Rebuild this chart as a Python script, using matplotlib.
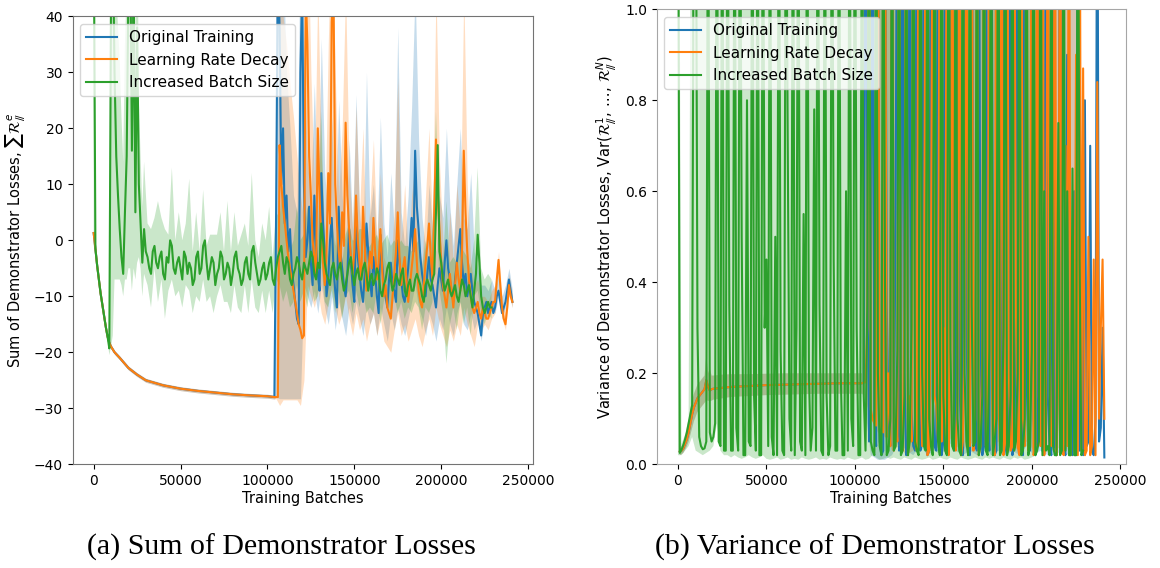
import numpy as np
import matplotlib
matplotlib.use("Agg")
import matplotlib.pyplot as plt

plt.rcParams['font.family'] = ['DejaVu Sans']
plt.rcParams['mathtext.fontset'] = 'dejavusans'

BLUE, ORANGE, GREEN = "#1f77b4", "#ff7f0e", "#2ca02c"
LABELS = ["Original Training", "Learning Rate Decay", "Increased Batch Size"]

# ---------------- (a) Sum of demonstrator losses ----------------
# shared smooth segment (Original Training == Learning Rate Decay before 105k)
sum_smooth_batches = [0, 1000, 2000, 3000, 4000, 5000, 6000, 7000, 8000, 9000, 10000, 12000,
                      15000, 20000, 25000, 30000, 40000, 50000, 60000, 70000, 80000, 90000,
                      100000, 104000]
sum_smooth = [1.3, -1.5, -4.5, -7, -9.5, -11.5, -13.5, -15.5, -17.2, -18.3, -19, -20,
              -21, -22.8, -24, -25, -25.9, -26.5, -26.9, -27.2, -27.5, -27.7, -27.85, -28]
sum_smooth_spread = 0.35

# noisy segment lines: every 1000 batches from 105000 to 241000
sum_noisy_batches = list(range(105000, 241001, 1000))
sum_blue = [5, 50, 38, 10, 20, 3, 8, -2, 2, -5,
            -8, -11, -14, -15, 30, 45, 10, -3, 0, 6,
            -4, -8, 8, -1, -6, -9, 12, 3, -2, -10,
            -7, 0, 4, -5, -9, -12, 6, -2, -5, -8,
            -10, -6, 2, -4, -8, -11, 5, -3, -6, -9,
            -11, -6, 3, -2, -7, -10, -3, -6, -10, -13,
            1, -4, -8, -10, -12, -7, -4, -8, -9, -11,
            0, -4, -7, -10, -11, -8, -5, -1, 4, -2,
            16, 6, 2, -3, -6, -8, -10, -6, -3, -7,
            -8, -10, -12, -8, -5, -7, -9, -4, 0, -5,
            -7, -9, -11, -7, -4, -1, 2, -4, -8, -6,
            -10, -8, -6, -9, -11, -12, -13, -15, -17, -13,
            -12, -11, -13, -12, -11, -13, -12, -10, -9, -11,
            -13, -12, -11, -9, -7, -9, -11]
sum_orange = [-28, -28, 17, 10, 6, 3, 0, -3, -5, -7,
              -9, -11, -13, -15, -16, -17.5, -17, 45, 35, 15,
              8, 0, -3, -6, 20, 8, 0, -4, -8, -2,
              12, 3, 39, 45, 10, 3, -2, -5, 5, -1,
              21, 8, 2, -3, -6, -2, 8, 0, -4, -7,
              6, -1, -9, -6, -2, -5, 4, -2, -7, -4,
              2, -5, -10, -8, -12, -13, -14, -10, -6, -2,
              5, -3, -8, -5, -3, -7, -11, -8, -5, -2,
              2, -4, -9, -11, -12, -8, -4, -1, 3, -3,
              -7, 5, 18, 8, 2, -4, -8, -10, -12, -9,
              -6, -9, -12, -8, -4, -7, -9, -2, 16, 5,
              -2, -7, -10, -12, -13, -12, -11, -13, -14, -12,
              -13, -14, -14, -13, -12, -11, -11, -7, -3.5, -8,
              -12, -14, -15, -12, -8, -10, -11]

# noisy segment bands: every 2000 batches from 105000 to 241000
sum_band_batches = list(range(105000, 241001, 2000))
sum_blue_hi = [45, 60, 50, 30, 20, 8, 5, 60, 35, 14,
               8, 28, 6, 36, 12, 3, 22, 2, 25, 8,
               0, 18, 2, 26, 5, -2, 30, 4, 10, -1,
               22, 3, -3, 12, 2, 38, 5, -1, 8, 24,
               45, 18, 4, -2, 10, 2, -2, 8, 4, 20,
               6, -1, 10, 20, 4, 2, 12, -2, -5, -8,
               -8, -9, -7, -9, -6, -10, -8, -5, -9]
sum_blue_lo = [-28, -28.3, -28.3, -28.3, -28.3, -28.3, -28.3, -28.3, -8, -10,
               -12, -9, -13, -8, -12, -15, -10, -16, -11, -14,
               -17, -12, -15, -11, -14, -17, -12, -15, -13, -17,
               -12, -15, -18, -13, -16, -12, -15, -17, -14, -11,
               -8, -12, -14, -17, -13, -15, -18, -14, -16, -12,
               -15, -17, -13, -11, -15, -16, -13, -16, -14, -18,
               -13, -14, -12, -13, -10, -14, -12, -8, -12]
sum_orange_hi = [-27.7, 50, 40, 35, 28, 22, 15, 8, 3, 60,
                 30, 10, 45, 15, 2, 35, 60, 30, 8, 20,
                 45, 12, 2, 24, 5, 20, -2, 6, 18, 0,
                 12, -3, -5, -6, 6, 29, 0, 10, -3, 8,
                 14, 0, -4, 8, 20, 2, 45, 14, 0, -5,
                 5, -4, 10, 2, 45, 10, -4, -8, -7, -10,
                 -10, -11, -9, -8, -2, -10, -13, -6, -10]
sum_orange_lo = [-28.3, -29.5, -28.5, -28.5, -28.5, -28.5, -28.5, -29.5, -25, -8,
                 -10, -12, -9, -13, -15, -11, -8, -12, -15, -13,
                 -10, -14, -17, -13, -16, -14, -18, -15, -13, -17,
                 -14, -18, -19, -20, -16, -13, -17, -15, -18, -16,
                 -14, -17, -19, -16, -14, -17, -12, -15, -17, -19,
                 -16, -18, -15, -17, -12, -15, -17, -19, -15, -16,
                 -15, -16, -14, -13, -5, -14, -16, -10, -12]

# Increased batch size line: every 1000 batches from 0 to 229000
green_sum_batches = list(range(0, 229001, 1000))
green_sum = [60, -1.5, -4.5, -7, -9.5, -11.5, -13.5, -15.5, -17.2, -19.3,
             45, 55, 30, 15, 8, 2, -3, -6, 5, 15,
             45, 55, 16, 45, 5, 38, 10, 3, -4, 2,
             -2, -3, -5, -6, -2, -1, -4, -5, -3, -2,
             -6, -7, -3, -4, 0, -1, -5, -6, -4, -3,
             -5, -7, -2, -3, -6, -4, -5, -8, -7, -3,
             -2, -6, -5, -1, 0, -4, -7, -5, -3, -4,
             -8, -6, -5, -2, -3, -7, -6, -4, -5, -8,
             -6, -3, -2, -5, -6, -8, -7, -4, -3, -6,
             -7, -2, -1, -4, -6, -8, -7, -5, -4, -7,
             -6, -4, -3, -7, -8, -5, -3, -2, -1, -4,
             -6, -3, -4, -7, -8, -6, -5, -3, -4, -6,
             -7, -4, -5, -6, -4, -2, -3, -6, -7, -4,
             -5, 3, 0, -4, -6, -7, -8, -5, -4, -6,
             -7, -5, -4, -7, -9, -8, -6, -4, -3, -6,
             -8, -6, -5, -7, -7, -5, -4, -6, -9, -7,
             -6, -8, -7, -5, -6, -9, -10, -8, -7, -5,
             -4, -7, -9, -8, -6, -7, -8, -6, -5, -9,
             -10, -8, -7, -9, -9, -7, -6, -7, -8, -10,
             -11, -8, -7, -8, -9, -7, -6, 5, 17, -2,
             -4, -7, -9, -8, -7, -9, -10, -9, -8, -10,
             -11, -9, -7, -8, -10, -9, -8, -10, -12, -9,
             -6, 1, -4, -10, -12, -13, -12, -11, -12, -12]

# Increased batch size band: centre and offsets read from the shaded area
green_band_batches = list(range(0, 30000, 1000)) + list(range(31000, 229001, 2000))
green_band_mid = [60, -1.5, -4.5, -7, -9.5, -11.5, -13.5, -15.5, -17.2, -19.3,
                  45, 55, 30, 15, 8, 2, -3, -6, 5, 15,
                  45, 55, 16, 45, 5, 38, 10, 3, -4, 2,
                  -3, -6, -1, -5, -2, -7, -4, -1, -6, -3,
                  -7, -2, -5, -8, -3, -6, -1, -7, -4, -8,
                  -5, -2, -7, -5, -8, -3, -6, -8, -4, -7,
                  -2, -6, -8, -5, -7, -4, -8, -3, -2, -6,
                  -4, -8, -5, -3, -7, -4, -6, -2, -7, -5,
                  3, -6, -8, -4, -7, -5, -9, -6, -3, -8,
                  -5, -7, -4, -9, -6, -8, -5, -10, -7, -4,
                  -9, -6, -8, -5, -10, -7, -9, -6, -8, -11,
                  -7, -9, -6, 17, -4, -9, -7, -10, -8, -11,
                  -7, -10, -8, -12, -6, 1, -10, -13, -11, -12]
green_band_up = [20, 0.5, 0.5, 0.5, 0.5, 0.5, 0.5, 0.5, 0.5, 1,
                 30, 30, 30, 30, 30, 30, 25, 20, 30, 30,
                 30, 30, 30, 30, 30, 30, 15, 12, 10, 12,
                 6, 8, 5, 12, 6, 9, 5, 14, 6, 8,
                 7, 5, 16, 6, 8, 4, 10, 6, 5, 9,
                 6, 7, 5, 12, 6, 8, 5, 9, 7, 6,
                 14, 6, 5, 8, 7, 10, 5, 8, 6, 16,
                 8, 6, 5, 9, 7, 5, 12, 6, 8, 5,
                 20, 6, 5, 8, 6, 9, 5, 7, 6, 8,
                 5, 9, 6, 7, 5, 8, 6, 9, 7, 5,
                 8, 6, 7, 5, 9, 6, 7, 5, 8, 6,
                 7, 5, 8, 6, 7, 5, 14, 6, 5, 7,
                 6, 8, 5, 7, 6, 12, 5, 6, 5, 5]
green_band_dn = [61, 0.5, 0.5, 0.5, 0.5, 0.5, 0.5, 0.5, 0.5, 1.2,
                 64, 72, 37, 22, 15, 9, 5, 4, 12, 22,
                 50, 60, 25, 50, 12, 42, 13, 8, 6, 8,
                 5, 6, 4, 6, 5, 7, 5, 6, 4, 6,
                 5, 6, 4, 5, 7, 5, 6, 4, 6, 5,
                 5, 6, 4, 6, 5, 5, 6, 5, 4, 6,
                 5, 6, 5, 4, 6, 5, 5, 4, 6, 5,
                 5, 4, 6, 5, 4, 5, 6, 5, 4, 5,
                 7, 5, 4, 5, 6, 4, 5, 4, 6, 5,
                 4, 5, 5, 4, 6, 5, 4, 5, 4, 5,
                 5, 4, 5, 6, 4, 5, 4, 5, 4, 5,
                 5, 4, 5, 4, 5, 4, 15, 5, 4, 5,
                 4, 5, 4, 5, 4, 10, 3, 2, 2, 2]

# ---------------- (b) Variance of demonstrator losses ----------------
VAR_CEIL = 2.0  # band continues above the top of the axes
var_smooth_batches = [1000, 2000, 3000, 4000, 5000, 6000, 7000, 8000, 9000, 10000,
                      11000, 12000, 13000, 14000, 15000, 16000, 17000, 18000, 19000, 20000,
                      25000, 30000, 40000, 50000, 60000, 70000, 80000, 90000, 100000, 104000]
var_smooth = [0.028, 0.03, 0.035, 0.045, 0.055, 0.07, 0.09, 0.11, 0.125, 0.135,
              0.145, 0.15, 0.155, 0.16, 0.165, 0.185, 0.17, 0.162, 0.165, 0.166,
              0.168, 0.17, 0.172, 0.174, 0.175, 0.176, 0.177, 0.178, 0.178, 0.178]
var_smooth_lo = [0.02, 0.022, 0.025, 0.032, 0.04, 0.05, 0.065, 0.08, 0.095, 0.105,
                 0.115, 0.12, 0.125, 0.13, 0.135, 0.14, 0.14, 0.138, 0.14, 0.142,
                 0.145, 0.148, 0.15, 0.152, 0.153, 0.154, 0.155, 0.155, 0.155, 0.155]
var_smooth_hi = [0.036, 0.04, 0.047, 0.06, 0.075, 0.095, 0.12, 0.14, 0.155, 0.165,
                 0.175, 0.18, 0.185, 0.19, 0.195, 0.24, 0.2, 0.21, 0.195, 0.195,
                 0.197, 0.198, 0.198, 0.199, 0.2, 0.2, 0.2, 0.2, 0.2, 0.2]

var_noisy_batches = list(range(105000, 241001, 1000))
var_blue = [0.18, 1.5, 0.6, 0.05, 0.3, 1.5, 0.1, 0.04, 1.5, 0.05,
            0.02, 0.03, 1.5, 0.35, 0.1, 0.04, 1.5, 0.04, 0.55, 1.5,
            0.03, 0.05, 1.5, 0.2, 0.02, 0.04, 1.5, 0.12, 0.04, 0.03,
            1.5, 0.25, 0.03, 0.05, 1.5, 0.45, 0.02, 0.03, 1.5, 0.15,
            0.04, 0.03, 1.5, 0.3, 0.02, 0.05, 1.5, 0.1, 0.04, 0.5,
            1.5, 0.03, 0.04, 1.5, 0.2, 0.06, 0.02, 1.5, 0.35, 0.03,
            0.02, 1.5, 0.15, 0.04, 0.03, 1.5, 0.25, 0.02, 0.04, 1.5,
            0.1, 0.03, 1.5, 0.4, 0.02, 0.03, 1.5, 0.2, 0.05, 1.5,
            0.04, 0.02, 0.12, 1.5, 0.02, 0.04, 0.3, 1.5, 0.05, 0.03,
            0.02, 1.5, 0.2, 0.04, 0.03, 1.5, 0.1, 0.02, 0.04, 1.5,
            0.35, 0.03, 0.02, 1.5, 0.15, 0.04, 0.02, 1.5, 0.04, 0.02,
            0.25, 1.5, 0.03, 0.04, 0.02, 0.9, 0.05, 0.03, 0.02, 0.6,
            0.02, 1.5, 0.03, 0.4, 0.02, 0.8, 0.04, 0.05, 0.7, 0.03,
            0.02, 0.1, 1.5, 0.05, 0.08, 0.3, 0.015]
var_orange = [0.18, 0.18, 0.3, 1.5, 0.12, 0.1, 0.09, 0.085, 1.5, 0.09,
              0.08, 0.07, 1.5, 0.06, 0.2, 0.04, 1.5, 0.03, 0.1, 0.05,
              1.5, 0.04, 0.03, 0.35, 1.5, 0.02, 0.15, 0.05, 1.5, 0.05,
              0.03, 1.5, 0.25, 0.04, 0.1, 1.5, 0.02, 0.03, 0.4, 1.5,
              0.15, 0.13, 0.05, 1.5, 0.05, 0.3, 0.03, 1.5, 0.02, 0.2,
              1.5, 0.04, 0.03, 0.15, 1.5, 0.02, 0.05, 0.3, 1.5, 0.06,
              0.04, 1.5, 0.03, 0.1, 1.5, 0.02, 0.04, 0.25, 1.5, 0.04,
              0.05, 1.5, 0.3, 0.04, 0.02, 1.5, 0.15, 0.04, 1.5, 0.02,
              0.05, 1.5, 0.2, 0.03, 0.04, 1.5, 0.35, 0.04, 0.02, 1.5,
              0.1, 0.04, 1.5, 0.03, 0.25, 1.5, 0.02, 0.04, 1.5, 0.15,
              0.04, 1.5, 0.02, 0.05, 1.5, 0.3, 0.04, 0.05, 1.5, 0.02,
              0.2, 1.5, 0.03, 0.02, 0.7, 0.04, 1.5, 0.02, 0.5, 0.03,
              0.9, 0.02, 1.5, 0.03, 0.87, 0.02, 0.03, 0.5, 0.02, 0.04,
              0.45, 0.02, 0.84, 0.1, 0.3, 0.45, 0.1]
var_band_batches = list(range(105000, 225001, 4000))
var_blue_band_lo = [0.15, 0.02, 0.01, 0.01, 0.02, 0.05, 0.03, 0.02, 0.04, 0.02,
                    0.03, 0.02, 0.05, 0.03, 0.02, 0.03, 0.02, 0.04, 0.02, 0.03,
                    0.02, 0.03, 0.02, 0.04, 0.02, 0.03, 0.02, 0.02, 0.03, 0.02, 0.02]
var_orange_band_lo = [0.155, 0.1, 0.07, 0.06, 0.03, 0.04, 0.02, 0.03, 0.05, 0.03,
                      0.04, 0.03, 0.06, 0.04, 0.03, 0.05, 0.03, 0.04, 0.03, 0.05,
                      0.03, 0.04, 0.03, 0.05, 0.03, 0.04, 0.03, 0.03, 0.04, 0.03, 0.03]

var_green_batches = list(range(0, 229001, 1000))
var_green = [1.5, 0.025, 0.032, 0.042, 0.055, 0.07, 0.09, 0.11, 0.13, 1.5,
             1.5, 0.3, 0.06, 0.04, 0.033, 0.035, 0.05, 1.5, 0.07, 0.05,
             0.06, 0.09, 1.5, 0.05, 0.04, 1.5, 0.03, 0.03, 1.5, 0.35,
             0.03, 0.03, 1.5, 0.08, 0.03, 1.5, 0.5, 0.02, 0.02, 0.8,
             0.05, 0.04, 1.5, 0.15, 0.03, 1.5, 0.02, 0.02, 1.5, 0.3,
             0.45, 0.04, 1.5, 0.06, 0.02, 0.5, 0.02, 1.5, 0.25, 0.03,
             0.02, 1.5, 0.72, 0.1, 0.03, 1.5, 0.02, 0.3, 1.5, 0.05,
             0.03, 0.55, 0.02, 1.5, 0.2, 0.03, 0.08, 0.78, 0.03, 1.5,
             0.35, 0.03, 0.02, 1.5, 0.15, 0.02, 0.04, 1.5, 0.45, 0.03,
             0.03, 1.5, 0.2, 0.02, 0.02, 0.6, 0.03, 1.5, 0.1, 0.04,
             1.5, 0.3, 0.02, 0.02, 1.5, 0.15, 0.03, 0.35, 1.5, 0.05,
             0.03, 0.02, 1.5, 0.2, 0.04, 0.02, 1.5, 0.4, 0.02, 0.03,
             0.1, 1.5, 0.03, 0.04, 0.25, 1.5, 0.02, 0.03, 0.15, 1.5,
             0.02, 0.05, 0.3, 1.5, 0.05, 0.03, 0.02, 1.5, 0.2, 0.04,
             0.03, 1.5, 0.1, 0.04, 0.02, 1.5, 0.3, 0.05, 0.02, 1.5,
             0.15, 0.03, 0.02, 1.5, 0.25, 0.04, 0.03, 1.5, 0.1, 0.03,
             0.02, 1.5, 0.2, 0.05, 0.02, 1.5, 0.35, 0.04, 0.05, 1.5,
             0.02, 0.04, 0.15, 1.5, 0.03, 0.02, 0.25, 1.5, 0.02, 0.05,
             0.1, 1.5, 0.02, 0.03, 0.3, 1.5, 0.02, 0.04, 0.15, 1.5,
             0.03, 0.05, 0.2, 1.5, 0.02, 0.03, 0.1, 1.5, 0.02, 0.04,
             0.25, 1.5, 0.02, 0.03, 0.05, 1.5, 0.02, 0.6, 0.03, 0.04,
             0.02, 1.5, 0.04, 0.02, 0.02, 0.75, 0.02, 0.03, 1.5, 0.03,
             0.6, 0.02, 0.02, 0.65, 0.02, 0.02, 1.5, 0.45, 0.02, 0.03]
var_green_band_batches = list(range(0, 202001, 2000))
var_green_band_lo = [0.02, 0.02, 0.03, 0.04, 0.06, 0.03, 0.025, 0.02, 0.025, 0.03,
                     0.04, 0.09, 0.03, 0.02, 0.02, 0.015, 0.02, 0.015, 0.012, 0.015,
                     0.02, 0.015, 0.012, 0.015, 0.02, 0.012, 0.01, 0.012, 0.015, 0.01,
                     0.012, 0.015, 0.01, 0.012, 0.01, 0.015, 0.012, 0.01, 0.012, 0.015,
                     0.01, 0.012, 0.01, 0.015, 0.012, 0.01, 0.012, 0.01, 0.015, 0.012,
                     0.01, 0.012, 0.015, 0.01, 0.012, 0.02, 0.015, 0.01, 0.012, 0.015,
                     0.012, 0.015, 0.012, 0.01, 0.015, 0.012, 0.01, 0.015, 0.012, 0.01,
                     0.012, 0.015, 0.01, 0.012, 0.015, 0.012, 0.01, 0.015, 0.012, 0.01,
                     0.015, 0.012, 0.01, 0.012, 0.015, 0.012, 0.01, 0.015, 0.012, 0.015,
                     0.012, 0.01, 0.015, 0.012, 0.01, 0.015, 0.012, 0.015, 0.01, 0.012,
                     0.015, 0.02]
var_green_band_hi_early = [VAR_CEIL, 0.045, 0.065, 0.1]

# ---------------- figure ----------------
fig = plt.figure(figsize=(11.6, 5.68), dpi=100)
ax1 = fig.add_axes([0.0627, 0.1826, 0.3971, 0.7887])
ax2 = fig.add_axes([0.5661, 0.1826, 0.4043, 0.8011])
ALPHA = 0.25

# (a)
sm = np.array(sum_smooth)
lx = np.array(sum_smooth_batches + sum_noisy_batches)
bandx = np.array(sum_smooth_batches + sum_band_batches)
ax1.plot(lx, np.concatenate([sm, sum_blue]), color=BLUE, lw=1.5, label=LABELS[0])
ax1.fill_between(bandx, np.concatenate([sm - sum_smooth_spread, sum_blue_lo]),
                 np.concatenate([sm + sum_smooth_spread, sum_blue_hi]),
                 color=BLUE, alpha=ALPHA, lw=0)
ax1.plot(lx, np.concatenate([sm, sum_orange]), color=ORANGE, lw=1.5, label=LABELS[1])
ax1.fill_between(bandx, np.concatenate([sm - sum_smooth_spread, sum_orange_lo]),
                 np.concatenate([sm + sum_smooth_spread, sum_orange_hi]),
                 color=ORANGE, alpha=ALPHA, lw=0)
ax1.plot(green_sum_batches, green_sum, color=GREEN, lw=1.5, label=LABELS[2])
gmid = np.array(green_band_mid, dtype=float)
ax1.fill_between(green_band_batches, gmid - np.array(green_band_dn), gmid + np.array(green_band_up),
                 color=GREEN, alpha=ALPHA, lw=0)
ax1.set_ylim(-40, 40)
ax1.set_yticks(range(-40, 41, 10))
ax1.set_xticks(range(0, 250001, 50000))
ax1.set_xlabel("Training Batches", fontsize=10.5, labelpad=2)
ax1.set_ylabel(r"Sum of Demonstrator Losses, $\sum\mathcal{R}^{e}_{/\!/}$", fontsize=10.5)
ax1.legend(loc="upper left", fontsize=11)

# (b)
vx = np.array(var_smooth_batches + var_noisy_batches)
vband_x = np.array(var_smooth_batches + var_band_batches)
vband_hi = np.concatenate([var_smooth_hi, np.full(len(var_band_batches), VAR_CEIL)])
ax2.plot(vx, np.concatenate([var_smooth, var_blue]), color=BLUE, lw=1.5, label=LABELS[0])
ax2.fill_between(vband_x, np.concatenate([var_smooth_lo, var_blue_band_lo]), vband_hi,
                 color=BLUE, alpha=ALPHA, lw=0)
ax2.plot(vx, np.concatenate([var_smooth, var_orange]), color=ORANGE, lw=1.5, label=LABELS[1])
ax2.fill_between(vband_x, np.concatenate([var_smooth_lo, var_orange_band_lo]), vband_hi,
                 color=ORANGE, alpha=ALPHA, lw=0)
ax2.plot(var_green_batches, var_green, color=GREEN, lw=1.5, label=LABELS[2])
gb_hi = np.concatenate([var_green_band_hi_early,
                        np.full(len(var_green_band_batches) - len(var_green_band_hi_early), VAR_CEIL)])
ax2.fill_between(var_green_band_batches, var_green_band_lo, gb_hi,
                 color=GREEN, alpha=ALPHA, lw=0)
ax2.set_ylim(0, 1)
ax2.set_yticks([0.0, 0.2, 0.4, 0.6, 0.8, 1.0])
ax2.set_xticks(range(0, 250001, 50000))
ax2.set_xlabel("Training Batches", fontsize=10.5, labelpad=2)
ax2.set_ylabel(r"Variance of Demonstrator Losses, Var$(\mathcal{R}^{1}_{/\!/},\,\ldots,\,\mathcal{R}^{N}_{/\!/})$",
               fontsize=10.5)
ax2.legend(loc="upper left", fontsize=11)

for ax, sc in ((ax1, '0.45'), (ax2, '0.65')):
    ax.tick_params(labelsize=10)
    for s in ax.spines.values():
        s.set_color(sc)

fig.text(281.5 / 1160, 1 - 547 / 568, "(a) Sum of Demonstrator Losses", ha="center", va="center",
         fontsize=21.5, family="Liberation Serif")
fig.text(874.5 / 1160, 1 - 547 / 568, "(b) Variance of Demonstrator Losses", ha="center", va="center",
         fontsize=21.5, family="Liberation Serif")

fig.savefig("out.png", dpi=100)
